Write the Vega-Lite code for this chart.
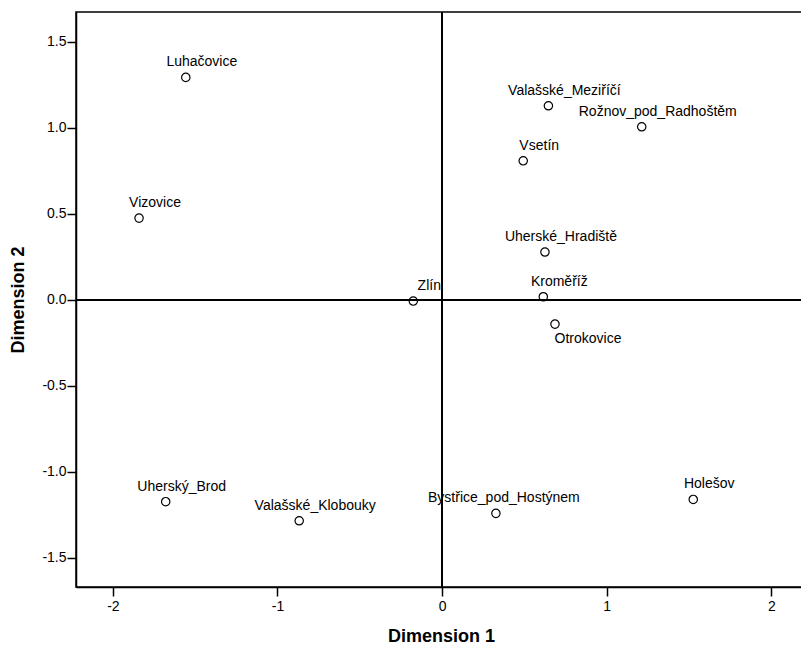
{
  "$schema": "https://vega.github.io/schema/vega-lite/v6.json",
  "width": 730,
  "height": 575,
  "autosize": {"type": "none"},
  "padding": {"left": 76, "top": 12, "right": 0, "bottom": 61},
  "background": "white",
  "config": {
    "view": {"stroke": "black", "strokeWidth": 1.5},
    "font": "Liberation Sans",
    "axis": {
      "grid": false,
      "domainColor": "black",
      "domainWidth": 1.5,
      "tickColor": "black",
      "tickWidth": 1.5,
      "tickSize": 9,
      "labelColor": "black",
      "labelFont": "Liberation Sans",
      "labelFontSize": 14,
      "titleColor": "black",
      "titleFont": "Liberation Sans",
      "titleFontSize": 18,
      "titleFontWeight": "bold"
    }
  },
  "data": {
    "values": [
      {"name": "Luhačovice", "dim1": -1.557, "dim2": 1.293},
      {"name": "Vizovice", "dim1": -1.841, "dim2": 0.475},
      {"name": "Valašské_Meziříčí", "dim1": 0.646, "dim2": 1.128},
      {"name": "Rožnov_pod_Radhoštěm", "dim1": 1.213, "dim2": 1.006},
      {"name": "Vsetín", "dim1": 0.493, "dim2": 0.808},
      {"name": "Uherské_Hradiště", "dim1": 0.625, "dim2": 0.278},
      {"name": "Zlín", "dim1": -0.175, "dim2": -0.007},
      {"name": "Kroměříž", "dim1": 0.615, "dim2": 0.018},
      {"name": "Otrokovice", "dim1": 0.686, "dim2": -0.141},
      {"name": "Uherský_Brod", "dim1": -1.679, "dim2": -1.173},
      {"name": "Valašské_Klobouky", "dim1": -0.868, "dim2": -1.284},
      {"name": "Bystřice_pod_Hostýnem", "dim1": 0.327, "dim2": -1.241},
      {"name": "Holešov", "dim1": 1.526, "dim2": -1.16}
    ]
  },
  "encoding": {
    "x": {
      "field": "dim1",
      "type": "quantitative",
      "scale": {"domain": [-2.224, 2.211], "nice": false, "zero": false},
      "axis": {
        "title": "Dimension 1",
        "values": [-2, -1, 0, 1, 2],
        "labelExpr": "replace(format(datum.value, 'd'), '\u2212', '-')",
        "labelPadding": 3,
        "titleX": 365,
        "titleY": 49,
        "titleBaseline": "middle",
        "titleAlign": "center"
      }
    },
    "y": {
      "field": "dim2",
      "type": "quantitative",
      "scale": {"domain": [-1.669, 1.673], "nice": false, "zero": false},
      "axis": {
        "title": "Dimension 2",
        "values": [-1.5, -1, -0.5, 0, 0.5, 1, 1.5],
        "labelExpr": "replace(format(datum.value, '.1f'), '\u2212', '-')",
        "labelPadding": 1,
        "titleX": -58,
        "titleY": 287.5,
        "titleAngle": -90,
        "titleBaseline": "middle",
        "titleAlign": "center"
      }
    }
  },
  "layer": [
    {
      "mark": {"type": "rule", "color": "black", "strokeWidth": 1.5},
      "encoding": {"x": {"datum": 0}, "y": null}
    },
    {
      "mark": {"type": "rule", "color": "black", "strokeWidth": 1.5},
      "encoding": {"y": {"datum": 0}, "x": null}
    },
    {
      "mark": {"type": "point", "shape": "circle", "filled": false, "color": "black", "strokeWidth": 1.2, "size": 70, "opacity": 1}
    },
    {
      "transform": [{"filter": "datum.name !== 'Otrokovice' && datum.name !== 'Bystřice_pod_Hostýnem'"}],
      "mark": {"type": "text", "dx": 16, "dy": -15, "baseline": "middle", "align": "center", "fontSize": 14, "color": "black", "font": "Liberation Sans"},
      "encoding": {"text": {"field": "name"}}
    },
    {
      "transform": [{"filter": "datum.name === 'Otrokovice'"}],
      "mark": {"type": "text", "dx": 33, "dy": 15, "baseline": "middle", "align": "center", "fontSize": 14, "color": "black", "font": "Liberation Sans"},
      "encoding": {"text": {"field": "name"}}
    },
    {
      "transform": [{"filter": "datum.name === 'Bystřice_pod_Hostýnem'"}],
      "mark": {"type": "text", "dx": 8, "dy": -15, "baseline": "middle", "align": "center", "fontSize": 14, "color": "black", "font": "Liberation Sans"},
      "encoding": {"text": {"field": "name"}}
    }
  ]
}
